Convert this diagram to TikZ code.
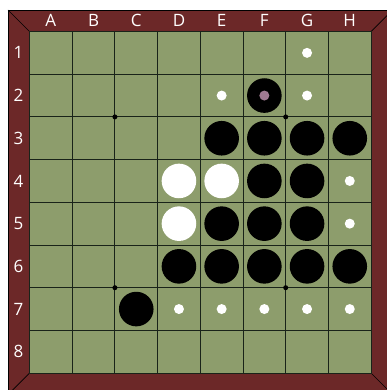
\documentclass[tikz,border=0pt]{standalone}
\usepackage{fontspec}
\setmainfont{Open Sans}
\definecolor{framec}{RGB}{108,40,40}
\definecolor{boardc}{RGB}{141,157,108}
\definecolor{gridc}{RGB}{25,35,25}
\definecolor{markc}{RGB}{160,122,146}
\begin{document}
\begin{tikzpicture}[x=1pt,y=-1pt,
  lbl/.style={text=white,font=\fontsize{17}{17}\selectfont,inner sep=0pt},
  blackdisc/.style={circle,fill=black,minimum size=34.6pt,inner sep=0pt},
  whitedisc/.style={circle,fill=white,minimum size=34.6pt,inner sep=0pt},
  hint/.style={circle,fill=white,minimum size=10pt,inner sep=0pt},
  lastmark/.style={circle,fill=markc,minimum size=10pt,inner sep=0pt},
  star/.style={circle,fill=black,minimum size=5pt,inner sep=0pt}]
\useasboundingbox (0,0) rectangle (387,390);
\begin{scope}
\clip (0,0) rectangle (387,390);
\fill[white] (0,0) rectangle (387,390);
\fill[framec,draw=black,line width=0.6pt] (8,10) rectangle (393,396);
\draw[black,line width=0.6pt] (8,10) -- (29.5,31.5);
\draw[black,line width=0.6pt] (371.1,31.5) -- (392.6,10);
\draw[black,line width=0.6pt] (29.5,373.1) -- (8,394.6);
\draw[black,line width=0.6pt] (371.1,373.1) -- (392.6,394.6);
\end{scope}
\fill[boardc] (29.5,31.5) rectangle (371.1,373.1);
\foreach \i in {1,...,7}{
  \draw[gridc,line width=1pt] ({29.5+42.7*\i},31.5) -- ({29.5+42.7*\i},373.1);
  \draw[gridc,line width=1pt] (29.5,{31.5+42.7*\i}) -- (371.1,{31.5+42.7*\i});
}
\draw[gridc,line width=1pt] (29.5,31.5) rectangle (371.1,373.1);
% star points
\node[star] (s1) at (114.9,116.9) {};
\node[star] (s2) at (285.7,116.9) {};
\node[star] (s3) at (114.9,287.7) {};
\node[star] (s4) at (285.7,287.7) {};
% labels
\foreach \l [count=\c] in {A,B,C,D,E,F,G,H}
  \node[lbl] (col\l) at ({29.5+42.7*(\c-0.5)},20.5) {\l};
\foreach \r in {1,...,8}
  \node[lbl] (row\r) at (18.5,{31.5+42.7*(\r-0.5)}) {\r};
% helper macro for cell centre
\def\cx#1{29.5+42.7*(#1-0.5)}
% discs
\node[blackdisc] (F2) at ({\cx{6}},{\cx{2}+2}) {};
\node[lastmark] (F2m) at (F2) {};
\foreach \c/\r in {5/3,6/3,7/3,8/3,6/4,7/4,5/5,6/5,7/5,4/6,5/6,6/6,7/6,8/6,3/7}
  \node[blackdisc] (b\c\r) at ({\cx{\c}},{\cx{\r}+2}) {};
\foreach \c/\r in {4/4,5/4,4/5}
  \node[whitedisc] (w\c\r) at ({\cx{\c}},{\cx{\r}+2}) {};
\foreach \c/\r in {7/1,5/2,7/2,8/4,8/5,4/7,5/7,6/7,7/7,8/7}
  \node[hint] (h\c\r) at ({\cx{\c}},{\cx{\r}+2}) {};
\end{tikzpicture}
\end{document}
